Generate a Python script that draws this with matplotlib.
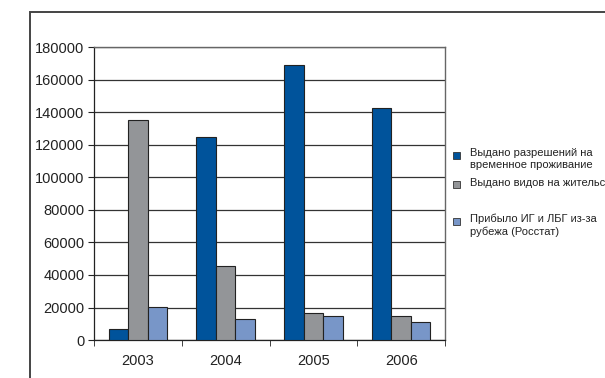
import matplotlib
matplotlib.use("Agg")
import matplotlib.pyplot as plt
import numpy as np
from matplotlib.patches import Rectangle

plt.rcParams['font.family'] = ['Liberation Sans', 'DejaVu Sans']

years = ["2003", "2004", "2005", "2006"]
permits_temp = [6500, 125000, 169500, 142500]
residence = [135300, 45300, 16400, 15000]
arrived = [20500, 12700, 14600, 11100]

series_names = [
    "Выдано разрешений на\nвременное проживание",
    "Выдано видов на жительство\n",
    "Прибыло ИГ и ЛБГ из-за\nрубежа (Росстат)",
]
colors = ["#00539b", "#939598", "#7896c8"]
y_ticks = list(range(0, 180001, 20000))

W, H = 605, 378
fig = plt.figure(figsize=(W / 100, H / 100), dpi=100)
fig.patch.set_facecolor("white")

# outer frame
fig.patches.append(Rectangle((30 / W, -0.1), 1.2, 1 - 12 / H + 0.1,
                             transform=fig.transFigure, fill=False,
                             edgecolor="#444444", linewidth=1.4))

ax = fig.add_axes([94 / W, 1 - 340 / H, (445 - 94) / W, (340 - 47.5) / H])
x = np.arange(len(years))
bw = 0.222
for i, (vals, c) in enumerate(zip([permits_temp, residence, arrived], colors)):
    ax.bar(x + (i - 1) * bw, vals, width=bw, color=c, edgecolor="#222222",
           linewidth=0.8, zorder=3)

ax.set_xlim(-0.5, len(years) - 0.5)
ax.set_ylim(0, 180000)
ax.set_yticks(y_ticks)
ax.set_yticklabels([str(v) for v in y_ticks], fontsize=10.5, color="#222222")
ax.set_xticks(x)
ax.set_xticklabels(years, fontsize=10.5, color="#222222")
ax.set_xticks(np.arange(-0.5, len(years), 1), minor=True)
ax.tick_params(axis="x", which="major", length=0, pad=10)
ax.tick_params(axis="x", which="minor", length=4, direction="out", color="#222222")
ax.tick_params(axis="y", length=4, direction="out", color="#222222", pad=3)
ax.yaxis.grid(True, color="#333333", linewidth=0.9, zorder=0)
for side in ["top", "right"]:
    ax.spines[side].set_color("#666666")
    ax.spines[side].set_linewidth(1.0)
for side in ["left", "bottom"]:
    ax.spines[side].set_color("#222222")
    ax.spines[side].set_linewidth(0.9)

# legend drawn as figure text with square markers
entries_y = [155, 185, 221]
for name, c, yy in zip(series_names, colors, entries_y):
    fig.patches.append(Rectangle((453 / W, 1 - (yy + 3.5) / H), 7 / W, 7 / H,
                                 transform=fig.transFigure, facecolor=c,
                                 edgecolor="#333333", linewidth=0.6))
    fig.text(470 / W, 1 - (yy - 7) / H, name, fontsize=8, va="top", ha="left",
             linespacing=1.25, color="#222222")

fig.savefig("out.png", dpi=100)
